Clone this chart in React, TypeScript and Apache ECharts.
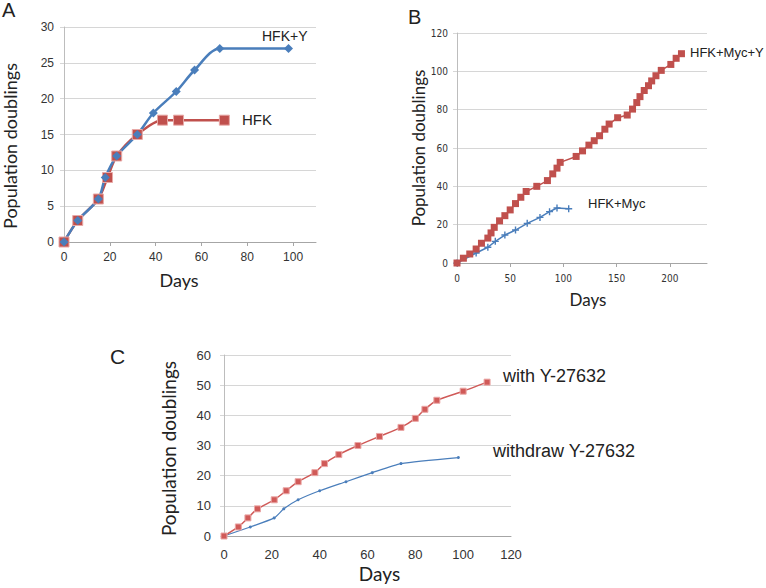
import React, { useEffect, useRef } from "react";
import * as echarts from "echarts";

// Panel A
const daysA_HFKY = [0, 6, 15, 18, 23, 32, 39, 49, 57, 68, 98];
const pdA_HFKY = [0, 3, 6, 9, 12, 15, 18, 21, 24, 27, 27];
const daysA_HFK = [0, 6, 15, 19, 23, 32, 43, 50, 70];
const pdA_HFK = [0, 3, 6, 9, 12, 15, 17, 17, 17];

// Panel B
const daysB_MycY = [0, 6, 12, 18, 23, 29, 32, 35, 40, 45, 50, 55, 60, 65, 75, 85, 90, 94, 97, 112, 118, 124, 129, 134, 139, 143, 151, 160, 165, 169, 172, 176, 180, 183, 187, 192, 201, 206, 211];
const pdB_MycY = [0, 2.5, 4.7, 7.3, 10.3, 13, 15.7, 18.6, 22, 24.7, 27.7, 31, 34.3, 37.3, 40, 43, 46.5, 49.5, 52.5, 55.6, 58.5, 61.5, 63.8, 66.4, 69.8, 72.5, 75.8, 77.2, 80.3, 83.7, 86.8, 90, 92.5, 95, 97.7, 100.5, 103.6, 106.8, 109.2];
const daysB_Myc = [0, 18, 29, 36, 45, 55, 66, 78, 87, 94, 105];
const pdB_Myc = [0, 5.2, 8.2, 11.3, 14.6, 17.2, 20.7, 23.8, 26.8, 28.7, 28.3];

// Panel C
const daysC_with = [0, 6, 10, 14, 21, 26, 31, 38, 42, 48, 56, 65, 74, 80, 84, 89, 100, 110];
const pdC_with = [0, 3, 6, 9, 12, 15, 18, 21, 24, 27, 30, 33, 36, 39, 42, 45, 48, 51];
const daysC_withdraw = [0, 11, 21, 25, 31, 40, 51, 62, 74, 98];
const pdC_withdraw = [0, 3, 6, 9, 12, 15, 18, 21, 24, 26];

const pairs = (xs: number[], ys: number[]) => xs.map((x, i) => [x, ys[i]]);

const BLUE = "#4a7ebb";
const RED = "#c0504d";
const ARIAL = "Liberation Sans, Arial, sans-serif";
const TITLE_FONT = "Lato, Open Sans, sans-serif";
const NARROW = "Liberation Sans Narrow, DejaVu Sans Condensed, Liberation Sans, sans-serif";
const CROSS = "path://M4,0H6V4H10V6H6V10H4V6H0V4H4Z";

export default function App() {
  const ref = useRef<HTMLDivElement>(null);
  useEffect(() => {
    if (!ref.current) return;
    const chart = echarts.init(ref.current, null, { renderer: "svg" });
    const grid = "#d6d6d6";
    const xAxisBase = (gi: number, max: number, interval: number, font: number, family: string, margin: number, ticks: boolean, nameGap: number, nameSize: number, namePad: number[]) => ({
      type: "value",
      gridIndex: gi,
      min: 0,
      max,
      interval,
      name: "Days",
      nameLocation: "middle",
      nameGap,
      nameTextStyle: { fontFamily: TITLE_FONT, fontSize: nameSize, color: "#222", padding: namePad },
      axisLine: { show: true, lineStyle: { color: "#a6a6a6", width: 1 } },
      axisTick: { show: ticks, length: 4, lineStyle: { color: "#a6a6a6" } },
      splitLine: { show: false },
      axisLabel: { fontFamily: family, fontSize: font, color: "#333", margin, showMaxLabel: max % interval === 0 },
    });
    const yAxisBase = (gi: number, max: number, interval: number, font: number, family: string, margin: number, nameGap: number, nameSize: number, namePad: number[]) => ({
      type: "value",
      gridIndex: gi,
      min: 0,
      max,
      interval,
      name: "Population doublings",
      nameLocation: "middle",
      nameGap,
      nameTextStyle: { fontFamily: TITLE_FONT, fontSize: nameSize, color: "#222", padding: namePad },
      axisLine: { show: true, lineStyle: { color: "#bdbdbd", width: 1 } },
      axisTick: { show: true, length: 4, lineStyle: { color: grid } },
      splitLine: { show: true, lineStyle: { color: grid, width: 1 } },
      axisLabel: { fontFamily: family, fontSize: font, color: "#333", margin },
    });
    const txt = (text: string, left: number, top: number, size: number, family = ARIAL) => ({
      type: "text",
      left,
      top,
      silent: true,
      style: { text, fontFamily: family, fontSize: size, fill: "#222" },
    });

    chart.setOption({
      animation: false,
      backgroundColor: "#ffffff",
      grid: [
        { left: 62, top: 27, width: 254, height: 215 },
        { left: 457, top: 33, width: 250, height: 230 },
        { left: 224, top: 355, width: 287, height: 181 },
      ],
      xAxis: [
        xAxisBase(0, 110, 20, 12, ARIAL, 9, true, 29, 18, [0, 22, 0, 0]),
        xAxisBase(1, 235, 50, 10, NARROW, 10, true, 28, 17, [0, 0, 0, 12]),
        xAxisBase(2, 120, 20, 13, ARIAL, 12, false, 28, 19, [0, 0, 0, 24]),
      ],
      yAxis: [
        yAxisBase(0, 30, 5, 12, ARIAL, 10, 45, 18, [0, 23, 0, 0]),
        yAxisBase(1, 120, 20, 10, NARROW, 9, 29, 17, [0, 0, 0, 0]),
        yAxisBase(2, 60, 10, 13, ARIAL, 13, 46, 19, [0, 6, 0, 0]),
      ],
      series: [
        {
          name: "HFK",
          type: "line",
          xAxisIndex: 0,
          yAxisIndex: 0,
          data: pairs(daysA_HFK, pdA_HFK),
          smooth: 0.3,
          symbol: "rect",
          symbolSize: 10,
          lineStyle: { color: RED, width: 2.5 },
          itemStyle: { color: RED, borderColor: "#e8a9a7", borderWidth: 1 },
        },
        {
          name: "HFK+Y",
          type: "line",
          xAxisIndex: 0,
          yAxisIndex: 0,
          data: pairs(daysA_HFKY, pdA_HFKY),
          smooth: 0.3,
          symbol: "diamond",
          symbolSize: 9,
          lineStyle: { color: BLUE, width: 2.5 },
          itemStyle: { color: BLUE },
        },
        {
          name: "HFK+Myc",
          type: "line",
          xAxisIndex: 1,
          yAxisIndex: 1,
          data: pairs(daysB_Myc, pdB_Myc),
          symbol: CROSS,
          symbolSize: 7,
          lineStyle: { color: BLUE, width: 1.5 },
          itemStyle: { color: BLUE },
        },
        {
          name: "HFK+Myc+Y",
          type: "line",
          xAxisIndex: 1,
          yAxisIndex: 1,
          data: pairs(daysB_MycY, pdB_MycY),
          symbol: "rect",
          symbolSize: 7,
          lineStyle: { color: RED, width: 1.5 },
          itemStyle: { color: RED },
        },
        {
          name: "withdraw Y-27632",
          type: "line",
          xAxisIndex: 2,
          yAxisIndex: 2,
          data: pairs(daysC_withdraw, pdC_withdraw),
          smooth: 0.2,
          symbol: "circle",
          symbolSize: 3,
          lineStyle: { color: BLUE, width: 1.2 },
          itemStyle: { color: BLUE },
        },
        {
          name: "with Y-27632",
          type: "line",
          xAxisIndex: 2,
          yAxisIndex: 2,
          data: pairs(daysC_with, pdC_with),
          smooth: 0.2,
          symbol: "rect",
          symbolSize: 6,
          lineStyle: { color: "#d05a58", width: 1.5 },
          itemStyle: { color: "#d05a58", borderColor: "#eaa7a6", borderWidth: 1 },
        },
      ],
      graphic: [
        txt("A", 2, 0, 20),
        txt("HFK+Y", 262, 29, 14),
        txt("HFK", 242, 112, 15),
        txt("B", 408, 7, 20),
        txt("HFK+Myc+Y", 690, 46, 13),
        txt("HFK+Myc", 588, 197, 13),
        txt("C", 110, 346, 21),
        txt("with Y-27632", 503, 367, 18),
        txt("withdraw Y-27632", 493, 442, 18),
      ],
    });
    return () => chart.dispose();
  }, []);
  return (
    <div
      ref={ref}
      style={{ position: "fixed", left: 0, top: 0, width: 766, height: 588, background: "#fff" }}
    />
  );
}
